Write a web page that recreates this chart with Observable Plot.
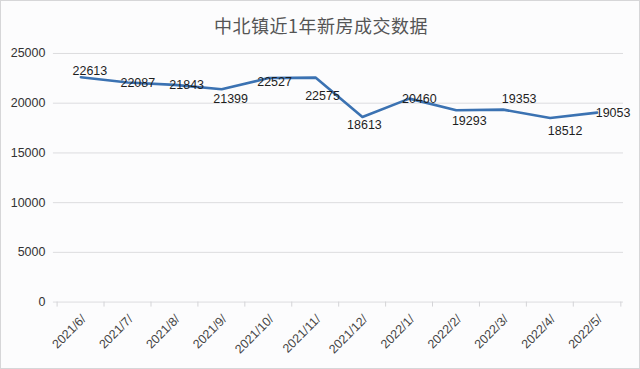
<!DOCTYPE html>
<html>
<head>
<meta charset="utf-8">
<script src="https://cdn.jsdelivr.net/npm/d3@7"></script>
<script src="https://cdn.jsdelivr.net/npm/@observablehq/plot@0.6"></script>
<style>
  html, body { margin: 0; padding: 0; background: #fcfcfd; }
  #wrap { width: 638px; height: 367px; border: 1px solid #d6d6d8; background: #fcfcfd; position: relative; overflow: hidden; }
  #title { position: absolute; left: 0; top: 11px; width: 640px; text-align: center;
    font-family: "Noto Sans CJK SC", sans-serif; font-size: 18px; color: #555; letter-spacing: 0.5px; }
  #chart { position: absolute; left: -1px; top: 39px; }
</style>
</head>
<body>
<div id="wrap">
  <div id="title">中北镇近1年新房成交数据</div>
  <div id="chart"></div>
</div>
<script>
const months = ["2021/6/","2021/7/","2021/8/","2021/9/","2021/10/","2021/11/","2021/12/","2022/1/","2022/2/","2022/3/","2022/4/","2022/5/"];
const values = [22613, 22087, 21843, 21399, 22527, 22575, 18613, 20460, 19293, 19353, 18512, 19053];
const yTicks = [0, 5000, 10000, 15000, 20000, 25000];

const data = months.map((m, i) => ({month: m, value: values[i]}));

// manual label placement (pixel offsets from each point), as in the original chart
const labelOffset = {
  "2021/6/": [9, -6], "2021/7/": [10, 1], "2021/8/": [12, 0], "2021/9/": [9, 10],
  "2021/10/": [6, 4], "2021/11/": [7, 18], "2021/12/": [2, 8], "2022/1/": [10, 0],
  "2022/2/": [13, 11], "2022/3/": [16, -11], "2022/4/": [15, 13], "2022/5/": [16, 0]
};

const bw = (624 - 53) / months.length;
const font = "'Liberation Sans', Arial, sans-serif";

const plot = Plot.plot({
  width: 640,
  height: 329,
  marginTop: 13,
  marginBottom: 67,
  marginLeft: 53,
  marginRight: 16,
  style: {fontFamily: font, background: "transparent"},
  x: {type: "band", domain: months, padding: 0, label: null},
  y: {domain: [0, 25000], label: null},
  marks: [
    Plot.ruleY(yTicks, {stroke: "#dcdcdf", strokeWidth: 1}),
    Plot.ruleX(months, {x: d => d, y1: 0, y2: 0, insetBottom: -5, stroke: "#d4d4d7", dx: -bw / 2}),
    Plot.ruleX(months.slice(-1), {x: d => d, y1: 0, y2: 0, insetBottom: -5, stroke: "#d4d4d7", dx: bw / 2}),
    Plot.axisY({ticks: yTicks, tickSize: 0, tickPadding: 8, fontSize: 12.5, fill: "#333", tickFormat: d => String(d)}),
    Plot.axisX({tickSize: 0, tickRotate: -45, tickPadding: 15, dx: 3, fontSize: 12.5, fill: "#444"}),
    Plot.lineY(data, {x: "month", y: "value", stroke: "#3b72b2", strokeWidth: 2.6, curve: "linear"}),
    ...data.map(d => Plot.text([d], {
      x: "month", y: "value", text: e => String(e.value),
      dx: labelOffset[d.month][0], dy: labelOffset[d.month][1],
      fontSize: 12.5, fill: "#1e1e1e"
    }))
  ]
});
document.getElementById("chart").appendChild(plot);
</script>
</body>
</html>
